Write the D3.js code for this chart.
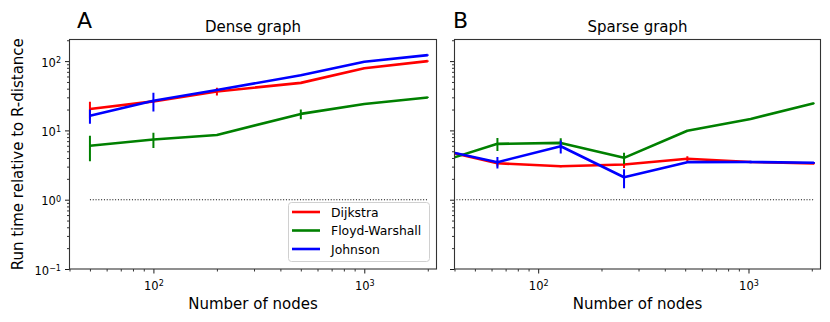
<!DOCTYPE html>
<html>
<head>
<meta charset="utf-8">
<script src="https://cdn.jsdelivr.net/npm/d3@7"></script>
<style>
  body { margin: 0; background: #fff; }
  svg { font-family: "DejaVu Sans", sans-serif; }
</style>
</head>
<body>
<svg id="chart" width="830" height="322"></svg>
<script>
// data (run time relative to R-distance)
const denseN = [50, 100, 200, 500, 1000, 2000];
const denseDijkstra    = [20.4, 26.2, 36.5, 48.5, 79, 100];
const denseDijkstraErr = [5.6, 1.0, 4.6, 1.0, 1.5, 2.0];
const denseFloyd       = [6.0, 7.4, 8.6, 17.3, 24.1, 29.9];
const denseFloydErr    = [2.4, 1.85, 0.3, 2.8, 0.5, 0.6];
const denseJohnson     = [16.3, 26.8, 38.3, 62.5, 98, 122];
const denseJohnsonErr  = [3.8, 8.0, 1.0, 1.5, 2.0, 3.0];

const sparseN = [32, 64, 128, 256, 512, 1024, 2048];
const sparseDijkstra    = [5.5, 3.36, 3.04, 3.22, 3.9, 3.5, 3.33];
const sparseDijkstraErr = [0.3, 0.35, 0.1, 0.35, 0.35, 0.08, 0.08];
const sparseFloyd       = [3.3, 6.4, 6.6, 4.02, 9.9, 14.6, 24.6];
const sparseFloydErr    = [0.2, 1.35, 1.1, 0.75, 0.2, 0.3, 0.4];
const sparseJohnson     = [5.5, 3.48, 5.9, 2.11, 3.48, 3.5, 3.41];
const sparseJohnsonErr  = [0.3, 0.65, 1.25, 0.65, 0.08, 0.15, 0.08];

const seriesNames  = ["Dijkstra", "Floyd-Warshall", "Johnson"];
const seriesColors = ["#ff0000", "#008000", "#0000ff"];

const xDomain = [40, 2200];
const yDomain = [0.1, 205];
const xMajor = [100, 1000], xMajorExp = ["2", "3"];
const yMajor = [0.1, 1, 10, 100], yMajorExp = ["\u22121", "0", "1", "2"];

const svg = d3.select("#chart");
const plotTop = 39.5, plotBottom = 269;

const panels = [
  { key: "dense",  left: 69.5,  right: 436.5, letter: "A", title: "Dense graph",
    n: denseN, ys: [denseDijkstra, denseFloyd, denseJohnson],
    errs: [denseDijkstraErr, denseFloydErr, denseJohnsonErr], yLabels: true, legend: true },
  { key: "sparse", left: 454.5, right: 820.5, letter: "B", title: "Sparse graph",
    n: sparseN, ys: [sparseDijkstra, sparseFloyd, sparseJohnson],
    errs: [sparseDijkstraErr, sparseFloydErr, sparseJohnsonErr], yLabels: false, legend: false }
];

const y = d3.scaleLog().domain(yDomain).range([plotBottom, plotTop]);

function minorTicks(lo, hi) {
  const out = [];
  for (let e = -2; e <= 4; e++) {
    for (let m = 2; m <= 9; m++) {
      const v = m * Math.pow(10, e);
      if (v >= lo && v <= hi) out.push(v);
    }
  }
  return out;
}

function powerLabel(sel, exps) {
  sel.each(function(d, i) {
    const t = d3.select(this);
    t.text(null);
    t.append("tspan").text("10");
    t.append("tspan").attr("dy", "-0.45em").attr("font-size", "0.7em").text(exps[i]);
  });
}

panels.forEach(p => {
  const x = d3.scaleLog().domain(xDomain).range([p.left, p.right]);
  const g = svg.append("g").attr("class", p.key);

  // clip for plot area
  g.append("clipPath").attr("id", "clip-" + p.key)
    .append("rect").attr("x", p.left).attr("y", plotTop)
    .attr("width", p.right - p.left).attr("height", plotBottom - plotTop);

  // x axis: minor then major
  g.append("g").attr("transform", `translate(0,${plotBottom})`)
    .call(d3.axisBottom(x).tickValues(minorTicks(xDomain[0], xDomain[1])).tickSize(2.5).tickFormat(""))
    .call(a => a.select(".domain").remove())
    .selectAll("line").attr("stroke", "#000").attr("stroke-width", 0.8);
  const xa = g.append("g").attr("transform", `translate(0,${plotBottom})`)
    .call(d3.axisBottom(x).tickValues(xMajor).tickSize(4.5).tickPadding(4));
  xa.select(".domain").remove();
  xa.selectAll("line").attr("stroke", "#000").attr("stroke-width", 0.9);
  xa.selectAll("text").attr("font-size", 11.5).attr("fill", "#000")
    .attr("font-family", "DejaVu Sans").attr("dy", "1.05em").call(powerLabel, xMajorExp);

  // y axis
  g.append("g").attr("transform", `translate(${p.left},0)`)
    .call(d3.axisLeft(y).tickValues(minorTicks(yDomain[0], yDomain[1])).tickSize(2.5).tickFormat(""))
    .call(a => a.select(".domain").remove())
    .selectAll("line").attr("stroke", "#000").attr("stroke-width", 0.8);
  const ya = g.append("g").attr("transform", `translate(${p.left},0)`)
    .call(d3.axisLeft(y).tickValues(yMajor).tickSize(4.5).tickPadding(4));
  ya.select(".domain").remove();
  ya.selectAll("line").attr("stroke", "#000").attr("stroke-width", 0.9);
  if (p.yLabels) {
    ya.selectAll("text").attr("font-size", 11.5).attr("fill", "#000")
      .attr("font-family", "DejaVu Sans").attr("dy", "0.45em").call(powerLabel, yMajorExp);
  } else {
    ya.selectAll("text").remove();
  }

  // reference line at 1
  const plot = g.append("g").attr("clip-path", `url(#clip-${p.key})`);
  plot.append("line")
    .attr("x1", x(d3.min(p.n))).attr("x2", x(d3.max(p.n)))
    .attr("y1", y(1)).attr("y2", y(1))
    .attr("stroke", "#000").attr("stroke-width", 1.1).attr("stroke-dasharray", "1,1.8");

  // series with error bars
  const line = d3.line().x(d => x(d[0])).y(d => y(d[1]));
  p.ys.forEach((vals, si) => {
    const pts = p.n.map((n, i) => [n, vals[i], p.errs[si][i]]);
    const c = seriesColors[si];
    plot.append("path").datum(pts).attr("d", line)
      .attr("fill", "none").attr("stroke", c).attr("stroke-width", 2.6)
      .attr("stroke-linejoin", "round");
    plot.selectAll(null).data(pts).enter().append("line")
      .attr("x1", d => x(d[0])).attr("x2", d => x(d[0]))
      .attr("y1", d => y(d[1] - d[2])).attr("y2", d => y(d[1] + d[2]))
      .attr("stroke", c).attr("stroke-width", 2);
  });

  // frame
  g.append("rect").attr("x", p.left).attr("y", plotTop)
    .attr("width", p.right - p.left).attr("height", plotBottom - plotTop)
    .attr("fill", "none").attr("stroke", "#333").attr("stroke-width", 1.1);

  // titles
  g.append("text").attr("x", (p.left + p.right) / 2).attr("y", 31.5)
    .attr("text-anchor", "middle").attr("font-size", 15).text(p.title);
  g.append("text").attr("x", p.left + (p.key === "dense" ? 7.5 : -1.5)).attr("y", 27.5)
    .attr("font-size", 22).text(p.letter);
  g.append("text").attr("x", (p.left + p.right) / 2).attr("y", 308.5)
    .attr("text-anchor", "middle").attr("font-size", 15).text("Number of nodes");

  if (p.legend) {
    const lg = g.append("g").attr("transform", "translate(288.5,202.5)");
    lg.append("rect").attr("width", 141).attr("height", 59).attr("rx", 3)
      .attr("fill", "#fff").attr("fill-opacity", 0.8)
      .attr("stroke", "#d0d0d0").attr("stroke-width", 1);
    seriesNames.forEach((name, i) => {
      const ry = 9.5 + i * 18.5;
      lg.append("line").attr("x1", 3.5).attr("x2", 31.5).attr("y1", ry).attr("y2", ry)
        .attr("stroke", seriesColors[i]).attr("stroke-width", 2.6);
      lg.append("text").attr("x", 42.5).attr("y", ry + 4.5)
        .attr("font-size", 12.4).text(name);
    });
  }
});

// shared y label
svg.append("text")
  .attr("transform", `translate(22.5,${(plotTop + plotBottom) / 2}) rotate(-90)`)
  .attr("text-anchor", "middle").attr("font-size", 15)
  .text("Run time relative to R-distance");
</script>
</body>
</html>
